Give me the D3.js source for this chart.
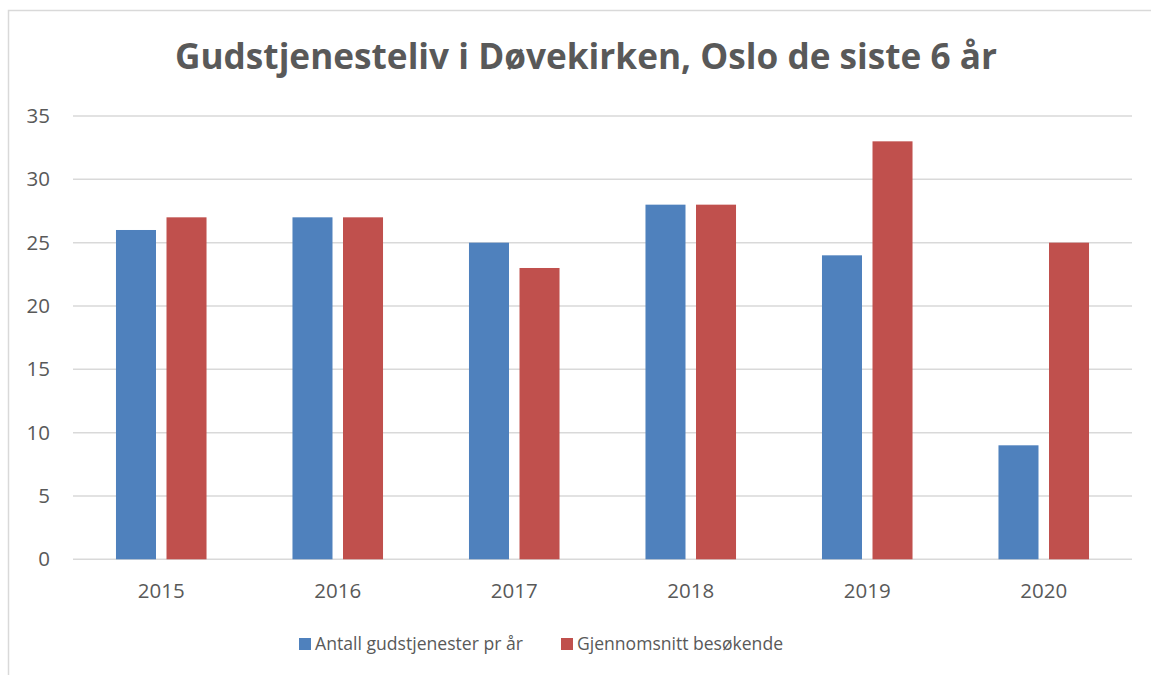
<!DOCTYPE html>
<html>
<head>
<meta charset="utf-8">
<script src="https://cdn.jsdelivr.net/npm/d3@7/dist/d3.min.js"></script>
<style>
  body { margin: 0; background: #fff; }
  text { font-family: "Open Sans", "Noto Sans", sans-serif; fill: #595959; }
</style>
</head>
<body>
<svg id="chart" width="1151" height="675"></svg>
<script>
var years = ["2015", "2016", "2017", "2018", "2019", "2020"];
var seriesNames = ["Antall gudstjenester pr år", "Gjennomsnitt besøkende"];
var gudstjenester = [26, 27, 25, 28, 24, 9];
var besokende = [27, 27, 23, 28, 33, 25];
var yTicks = [0, 5, 10, 15, 20, 25, 30, 35];
var colors = ["#4f81bd", "#c0504d"];

var svg = d3.select("#chart");

// chart frame (runs off the right and bottom edge like the source)
svg.append("rect")
    .attr("x", 8.5).attr("y", 10.5)
    .attr("width", 1300).attr("height", 1000)
    .attr("fill", "#fff")
    .attr("stroke", "#d9d9d9")
    .attr("stroke-width", 1.5);

var plotLeft = 73, plotRight = 1132, plotTop = 116, plotBottom = 559.3;

var y = d3.scaleLinear().domain([0, 35]).range([plotBottom, plotTop]);
var x0 = d3.scaleBand().domain(years).range([plotLeft, plotRight]).padding(0);
var groupW = x0.bandwidth() * 0.513;
var x1 = d3.scaleBand().domain(seriesNames).range([0, groupW]).paddingInner(0.208);
var groupOffset = (x0.bandwidth() - groupW) / 2;

// gridlines
svg.append("g").selectAll("line")
    .data(yTicks)
  .enter().append("line")
    .attr("x1", plotLeft).attr("x2", plotRight)
    .attr("y1", function(d) { return y(d); })
    .attr("y2", function(d) { return y(d); })
    .attr("stroke", "#d9d9d9")
    .attr("stroke-width", 1.5);

// y axis labels
var yAxis = d3.axisLeft(y).tickValues(yTicks).tickSize(0).tickPadding(0);
svg.append("g")
    .attr("transform", "translate(50,0)")
    .call(yAxis)
    .call(function(g) { g.select(".domain").remove(); })
    .selectAll("text")
      .attr("fill", "#595959")
      .style("font-size", "20.5px")
      .style("font-family", "'Open Sans', sans-serif");

// x axis labels
var xAxis = d3.axisBottom(x0).tickSize(0).tickPadding(0);
svg.append("g")
    .attr("transform", "translate(0," + plotBottom + ")")
    .call(xAxis)
    .call(function(g) { g.select(".domain").remove(); })
    .selectAll("text")
      .attr("dy", null)
      .attr("y", 38.5)
      .attr("fill", "#595959")
      .style("font-size", "20.5px")
      .style("font-family", "'Open Sans', sans-serif");

// bars
var rows = years.map(function(yr, i) {
    return { year: yr, values: [gudstjenester[i], besokende[i]] };
});

var groups = svg.append("g").selectAll("g")
    .data(rows)
  .enter().append("g")
    .attr("transform", function(d) { return "translate(" + (x0(d.year) + groupOffset) + ",0)"; });

groups.selectAll("rect")
    .data(function(d) { return d.values.map(function(v, k) { return { name: seriesNames[k], value: v, k: k }; }); })
  .enter().append("rect")
    .attr("x", function(d) { return x1(d.name); })
    .attr("width", x1.bandwidth())
    .attr("y", function(d) { return y(d.value); })
    .attr("height", function(d) { return plotBottom - y(d.value); })
    .attr("fill", function(d) { return colors[d.k]; });

// title
svg.append("text")
    .attr("x", 175).attr("y", 68.5)
    .attr("textLength", 822)
    .attr("lengthAdjust", "spacingAndGlyphs")
    .style("font-size", "35px")
    .style("font-weight", "bold")
    .text("Gudstjenesteliv i Døvekirken, Oslo de siste 6 år");

// legend
var legendItems = [
    { name: seriesNames[0], color: colors[0], x: 299, w: 208 },
    { name: seriesNames[1], color: colors[1], x: 561, w: 206 }
];
var lg = svg.append("g").selectAll("g")
    .data(legendItems)
  .enter().append("g")
    .attr("transform", function(d) { return "translate(" + d.x + ",0)"; });
lg.append("rect")
    .attr("x", 0).attr("y", 638)
    .attr("width", 12).attr("height", 12)
    .attr("fill", function(d) { return d.color; });
lg.append("text")
    .attr("x", 16).attr("y", 649.5)
    .attr("textLength", function(d) { return d.w; })
    .attr("lengthAdjust", "spacingAndGlyphs")
    .style("font-size", "17.5px")
    .text(function(d) { return d.name; });
</script>
</body>
</html>
